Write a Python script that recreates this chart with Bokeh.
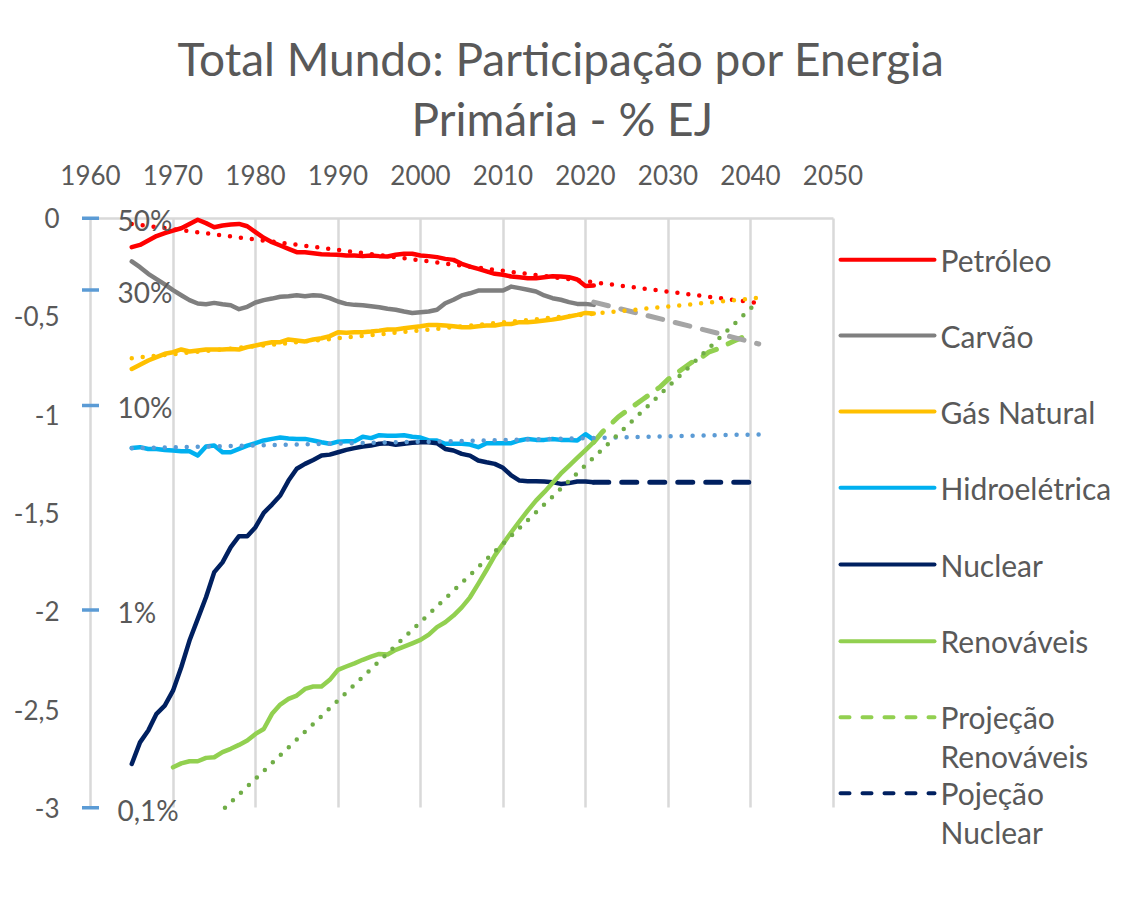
from bokeh.plotting import figure
from bokeh.models import Range1d, FixedTicker, Label, LabelSet, ColumnDataSource, Grid, Title
from bokeh.core.properties import value
from bokeh.embed import file_html
from bokeh.resources import INLINE

# ---------------- data (log10 share) ----------------
years = list(range(1965, 2022))
oil = [-0.147, -0.136, -0.114, -0.091, -0.076, -0.063, -0.051, -0.029, -0.008, -0.025,
       -0.046, -0.037, -0.032, -0.029, -0.041, -0.071, -0.100, -0.122, -0.139, -0.156,
       -0.173, -0.173, -0.178, -0.183, -0.185, -0.186,
       -0.190, -0.190, -0.193, -0.190, -0.193, -0.195, -0.186, -0.181, -0.181, -0.190,
       -0.193, -0.198, -0.207, -0.212, -0.232, -0.246, -0.258, -0.271, -0.283, -0.288,
       -0.297, -0.300, -0.305, -0.305, -0.300, -0.295, -0.297, -0.300, -0.312, -0.345, -0.343]
coal = [-0.220, -0.249, -0.283, -0.310, -0.337, -0.366, -0.392, -0.417, -0.434, -0.438,
        -0.431, -0.438, -0.443, -0.463, -0.451, -0.429, -0.417, -0.409, -0.400, -0.397,
        -0.392, -0.397, -0.392, -0.395, -0.407, -0.424,
        -0.436, -0.441, -0.443, -0.448, -0.453, -0.461, -0.466, -0.475, -0.482, -0.478,
        -0.475, -0.466, -0.433, -0.415, -0.393, -0.382, -0.368, -0.368, -0.368, -0.368,
        -0.348, -0.356, -0.364, -0.373, -0.393, -0.407, -0.415, -0.427, -0.436, -0.436, -0.441]
gas = [-0.767, -0.746, -0.724, -0.707, -0.690, -0.682, -0.668, -0.678, -0.673, -0.668,
       -0.668, -0.668, -0.665, -0.668, -0.656, -0.648, -0.639, -0.631, -0.631, -0.617,
       -0.622, -0.627, -0.617, -0.611, -0.600, -0.580,
       -0.583, -0.580, -0.580, -0.577, -0.572, -0.566, -0.566, -0.560, -0.555, -0.550,
       -0.543, -0.543, -0.546, -0.550, -0.555, -0.555, -0.550, -0.546, -0.546, -0.538,
       -0.538, -0.529, -0.529, -0.526, -0.521, -0.516, -0.509, -0.500, -0.492, -0.482, -0.485]
hydro = [-1.169, -1.165, -1.174, -1.174, -1.179, -1.182, -1.186, -1.186, -1.208, -1.162,
         -1.157, -1.191, -1.191, -1.174, -1.157, -1.145, -1.131, -1.123, -1.116, -1.121,
         -1.123, -1.123, -1.131, -1.140, -1.148, -1.137,
         -1.135, -1.135, -1.112, -1.119, -1.104, -1.107, -1.107, -1.104, -1.112, -1.116,
         -1.131, -1.131, -1.148, -1.148, -1.148, -1.152, -1.165, -1.145, -1.145, -1.145,
         -1.145, -1.131, -1.123, -1.128, -1.128, -1.123, -1.128, -1.128, -1.131, -1.099, -1.128]
nuclear = [-2.777, -2.667, -2.607, -2.522, -2.480, -2.404, -2.285, -2.149, -2.039, -1.929,
           -1.801, -1.751, -1.674, -1.618, -1.618, -1.572, -1.499, -1.457, -1.411, -1.335,
           -1.275, -1.250, -1.230, -1.208, -1.203, -1.191,
           -1.179, -1.170, -1.162, -1.157, -1.148, -1.145, -1.153, -1.148, -1.143, -1.140,
           -1.140, -1.145, -1.174, -1.182, -1.199, -1.208, -1.233, -1.242, -1.250, -1.270,
           -1.309, -1.335, -1.338, -1.338, -1.340, -1.343, -1.352, -1.348, -1.340, -1.340, -1.343]
ren_years = list(range(1970, 2022))
renewables = [-2.794, -2.774, -2.763, -2.763, -2.746, -2.743, -2.717, -2.700, -2.680, -2.658,
              -2.624, -2.599, -2.522, -2.475, -2.446, -2.429, -2.395, -2.383, -2.383, -2.349,
              -2.298, -2.281, -2.265, -2.247, -2.231, -2.217, -2.220, -2.196, -2.180, -2.163,
              -2.146, -2.119, -2.081, -2.056, -2.022, -1.980, -1.929, -1.861, -1.790, -1.717,
              -1.657, -1.598, -1.542, -1.488, -1.437, -1.394, -1.347, -1.300, -1.260, -1.220,
              -1.180, -1.140]

# projections
ren_proj_years = list(range(2021, 2041))
ren_proj = [-1.14, -1.09, -1.05, -1.01, -0.98, -0.95, -0.92, -0.89, -0.86, -0.82,
            -0.79, -0.76, -0.73, -0.71, -0.68, -0.665, -0.645, -0.625, -0.607, -0.59]
nuc_proj_years = [2021, 2025, 2030, 2035, 2040]
nuc_proj = [-1.343, -1.343, -1.343, -1.343, -1.343]
coal_proj_years = [2021, 2026, 2031, 2036, 2041]
coal_proj = [-0.427, -0.480, -0.532, -0.585, -0.640]

# trend lines (dotted)
oil_trend_years, oil_trend = [1965, 2041], [-0.029, -0.432]
gas_trend_years, gas_trend = [1965, 2041], [-0.712, -0.405]
hydro_trend_years, hydro_trend = [1965, 2041], [-1.170, -1.100]
ren_trend_years, ren_trend = [1976.3, 2041], [-3.0, -0.42]

# reference markers with percentage labels
mark_x = [1960, 1960, 1960, 1960, 1960]
mark_y = [0.0, -0.365, -0.953, -1.993, -3.0]
mark_labels = ["50%", "30%", "10%", "1%", "0,1%"]

x_ticks = [1960, 1970, 1980, 1990, 2000, 2010, 2020, 2030, 2040, 2050]
y_ticks = [0, -0.5, -1, -1.5, -2, -2.5, -3]
y_tick_labels = ["0", "-0,5", "-1", "-1,5", "-2", "-2,5", "-3"]

title_lines = ["Total Mundo: Participação por Energia", "Primária - % EJ"]
legend_names = ["Petróleo", "Carvão", "Gás Natural", "Hidroelétrica", "Nuclear",
                "Renováveis", "Projeção\nRenováveis", "Pojeção\nNuclear"]

# ---------------- colours / styles ----------------
C_OIL, C_COAL, C_GAS = "#ff0000", "#7f7f7f", "#ffc000"
C_HYD, C_NUC, C_REN = "#00b0f0", "#002060", "#92d050"
C_COALP, C_RENT, C_HYDT = "#a5a5a5", "#70ad47", "#5b9bd5"
TXT = "#595959"
GRID = "#d9d9d9"
FONT = "Lato"

# ---------------- layout geometry (canvas pixels) ----------------
ML, MT, MB = 74, 200, 0
FW, FH = 1046, 680
PX_YEAR = 8.25
PX_UNIT = 196.53
X_1960 = 90.0          # canvas x of year 1960
Y_ZERO = 217.7         # canvas y of value 0

X0 = 1960 - (X_1960 - ML) / PX_YEAR
X1 = X0 + FW / PX_YEAR
Y1 = (Y_ZERO - MT) / PX_UNIT
Y0 = Y1 - FH / PX_UNIT


def cx(px):   # canvas px -> data x
    return X0 + (px - ML) / PX_YEAR


def cy(py):   # canvas py -> data y
    return Y1 - (py - MT) / PX_UNIT


p = figure(frame_width=FW, frame_height=FH,
           min_border_left=ML, min_border_right=0, min_border_top=MT, min_border_bottom=MB,
           x_range=Range1d(X0, X1), y_range=Range1d(Y0, Y1),
           x_axis_location="above", output_backend="svg", toolbar_location=None)
p.outline_line_color = None
p.background_fill_color = "white"
p.border_fill_color = "white"

# title (two lines, stacked above the top axis)
t2 = Title(text=title_lines[1], align="left", text_font=FONT, text_font_size="46px",
           text_font_style="normal", text_color=TXT, standoff=32, offset=337)
t1 = Title(text=title_lines[0], align="left", text_font=FONT, text_font_size="46px",
           text_font_style="normal", text_color=TXT, standoff=-26, offset=103)
p.add_layout(t2, "above")
p.add_layout(t1, "above")

# axes
xa = p.xaxis[0]
xa.ticker = FixedTicker(ticks=x_ticks)
xa.axis_line_color = None
xa.major_tick_line_color = None
xa.minor_tick_line_color = None
xa.major_label_text_font = FONT
xa.major_label_text_font_size = "26px"
xa.major_label_text_color = TXT
xa.major_label_standoff = 10

ya = p.yaxis[0]
ya.ticker = FixedTicker(ticks=y_ticks)
ya.major_label_overrides = dict(zip(y_ticks, y_tick_labels))
ya.axis_line_color = None
ya.major_tick_line_color = None
ya.minor_tick_line_color = None
ya.major_label_text_font = FONT
ya.major_label_text_font_size = "26px"
ya.major_label_text_color = TXT
ya.major_label_standoff = 9

# grid lines
has_cb = "cross_bounds" in Grid.properties()
p.xgrid.grid_line_color = GRID
p.xgrid.grid_line_width = 2.5
p.ygrid.ticker = FixedTicker(ticks=[0])
p.ygrid.grid_line_color = GRID
p.ygrid.grid_line_width = 2.5
if has_cb:
    p.xgrid.cross_bounds = (-3, 0)
    p.ygrid.cross_bounds = (1960, 2050)
else:
    p.xgrid.visible = False
    p.ygrid.visible = False
    p.segment(x0=x_ticks, y0=[-3] * len(x_ticks), x1=x_ticks, y1=[0] * len(x_ticks),
              line_color=GRID, line_width=2.5)
    p.segment(x0=[1960], y0=[0], x1=[2050], y1=[0], line_color=GRID, line_width=2.5)

LW = 4.5
DASH = "15 13"
DOT = "0 11"

# series
p.line(years, oil, line_color=C_OIL, line_width=LW, line_join="round", line_cap="round")
p.line(years, coal, line_color=C_COAL, line_width=LW, line_join="round", line_cap="round")
p.line(years, gas, line_color=C_GAS, line_width=LW, line_join="round", line_cap="round")
p.line(years, hydro, line_color=C_HYD, line_width=LW, line_join="round", line_cap="round")
p.line(years, nuclear, line_color=C_NUC, line_width=LW, line_join="round", line_cap="round")
p.line(ren_years, renewables, line_color=C_REN, line_width=LW, line_join="round", line_cap="round")
p.line(ren_proj_years, ren_proj, line_color=C_REN, line_width=5, line_dash=DASH,
       line_join="round", line_cap="round")
p.line(nuc_proj_years, nuc_proj, line_color=C_NUC, line_width=5, line_dash=DASH,
       line_join="round", line_cap="round")
p.line(coal_proj_years, coal_proj, line_color=C_COALP, line_width=5, line_dash=DASH,
       line_join="round", line_cap="round")

# trend lines
p.line(oil_trend_years, oil_trend, line_color=C_OIL, line_width=4.5, line_dash=DOT, line_cap="round")
p.line(gas_trend_years, gas_trend, line_color=C_GAS, line_width=4.5, line_dash=DOT, line_cap="round")
p.line(hydro_trend_years, hydro_trend, line_color=C_HYDT, line_width=4.5, line_dash=DOT, line_cap="round")
p.line(ren_trend_years, ren_trend, line_color=C_RENT, line_width=4.5, line_dash=DOT, line_cap="round")

# reference markers + labels
p.scatter(mark_x, mark_y, marker="dash", size=17, line_color=C_HYDT, line_width=3.5)
lab_src = ColumnDataSource(dict(x=mark_x, y=mark_y, t=mark_labels))
p.add_layout(LabelSet(x="x", y="y", text="t", source=lab_src, x_offset=27, y_offset=-2,
                      text_font=value(FONT), text_font_size=value("28px"),
                      text_color=TXT, text_baseline="middle", text_align="left"))

# legend (drawn manually, Excel style)
leg_y = [259.3, 335, 411, 487.3, 564, 640.7, 716.7, 792.7]
leg_styles = [(C_OIL, None), (C_COAL, None), (C_GAS, None), (C_HYD, None), (C_NUC, None),
              (C_REN, None), (C_REN, "9 13"), (C_NUC, "9 13")]
for name, ly, (col, dash) in zip(legend_names, leg_y, leg_styles):
    kw = dict(line_color=col, line_width=4, line_cap="round")
    if dash:
        kw["line_dash"] = dash
    p.line([cx(840), cx(934)], [cy(ly), cy(ly)], **kw)
    for k, part in enumerate(name.split("\n")):
        p.add_layout(Label(x=cx(940), y=cy(ly + 38.5 * k), text=part, text_align="left",
                           text_baseline="middle", text_font=FONT, text_font_size="30px",
                           text_color=TXT))

open("out.html", "w").write(file_html(p, INLINE))
